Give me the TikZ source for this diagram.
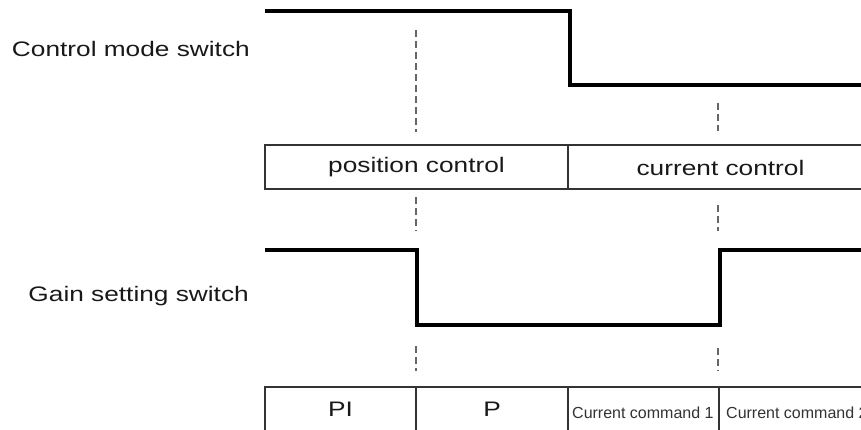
\documentclass[tikz,border=0pt]{standalone}
\usepackage{fontspec}
\setmainfont{Liberation Sans}[FakeStretch=1.25]
\newfontfamily\plainsans{Liberation Sans}
\begin{document}
\begin{tikzpicture}[x=1pt,y=-1pt,
  signal/.style={line width=4pt,line join=miter,black},
  guide/.style={draw=black!60,line width=1.4pt,dash pattern=on 7pt off 4pt},
  cell/.style={draw=black!80,line width=1.2pt,anchor=north west,inner sep=0pt,outer sep=0pt},
  bigtxt/.style={text=black!90,font=\fontsize{21}{25}\selectfont,inner sep=0pt},
  smalltxt/.style={text=black!80,font=\plainsans\fontsize{16}{19}\selectfont,inner sep=0pt}]
\useasboundingbox[fill=white] (0,0) rectangle (861,429);
% labels
\node[bigtxt,anchor=east] (lcm) at (250,49) {Control mode switch};
\node[bigtxt,anchor=east] (lgs) at (249,296) {Gain setting switch};
% control mode signal
\coordinate (c0) at (265,11);
\coordinate (c1) at (570,11);
\coordinate (c2) at (570,85);
\coordinate (c3) at (875,85);
\draw[signal] (c0) -- (c1) -- (c2) -- (c3);
% gain signal
\coordinate (g0) at (265,250);
\coordinate (g1) at (417,250);
\coordinate (g2) at (417,325);
\coordinate (g3) at (720,325);
\coordinate (g4) at (720,250);
\coordinate (g5) at (875,250);
\draw[signal] (g0) -- (g1) -- (g2) -- (g3) -- (g4) -- (g5);
% table 1
\node[cell,minimum height=44pt,minimum width=303pt] (pos) at (265,145) {};
\node[cell,minimum height=44pt,minimum width=305pt] (cur) at (568,145) {};
\node[bigtxt] (tpos) at ([yshift=-0.5pt]pos.center) {position control};
\node[bigtxt] (tcur) at ([yshift=-0.5pt]cur.center) {current control};
% table 2
\node[cell,minimum height=45pt,minimum width=151pt] (pi) at (265,387) {};
\node[cell,minimum height=45pt,minimum width=152pt] (p) at (416,387) {};
\node[cell,minimum height=45pt,minimum width=151pt] (cc1) at (568,387) {};
\node[cell,minimum height=45pt,minimum width=156pt] (cc2) at (719,387) {};
\node[bigtxt] (tpi) at ([yshift=0pt]pi.center) {PI};
\node[bigtxt] (tp) at ([yshift=0pt]p.center) {P};
\node[smalltxt,anchor=base west] (tc1) at ([xshift=4pt,yshift=14pt]cc1.south west) {Current command 1};
\node[smalltxt,anchor=base west] (tc2) at ([xshift=7pt,yshift=14pt]cc2.south west) {Current command 2};
% dashed guides
\coordinate (d1a) at (416,30);  \coordinate (d1b) at (416,132);
\coordinate (d2a) at (718,103); \coordinate (d2b) at (718,131);
\coordinate (d3a) at (416,197); \coordinate (d3b) at (416,231);
\coordinate (d4a) at (718,205); \coordinate (d4b) at (718,231);
\coordinate (d5a) at (416,346); \coordinate (d5b) at (416,371);
\coordinate (d6a) at (718,348); \coordinate (d6b) at (718,371);
\draw[guide] (d1a) -- (d1b);
\draw[guide] (d2a) -- (d2b);
\draw[guide] (d3a) -- (d3b);
\draw[guide] (d4a) -- (d4b);
\draw[guide] (d5a) -- (d5b);
\draw[guide] (d6a) -- (d6b);
\end{tikzpicture}
\end{document}
